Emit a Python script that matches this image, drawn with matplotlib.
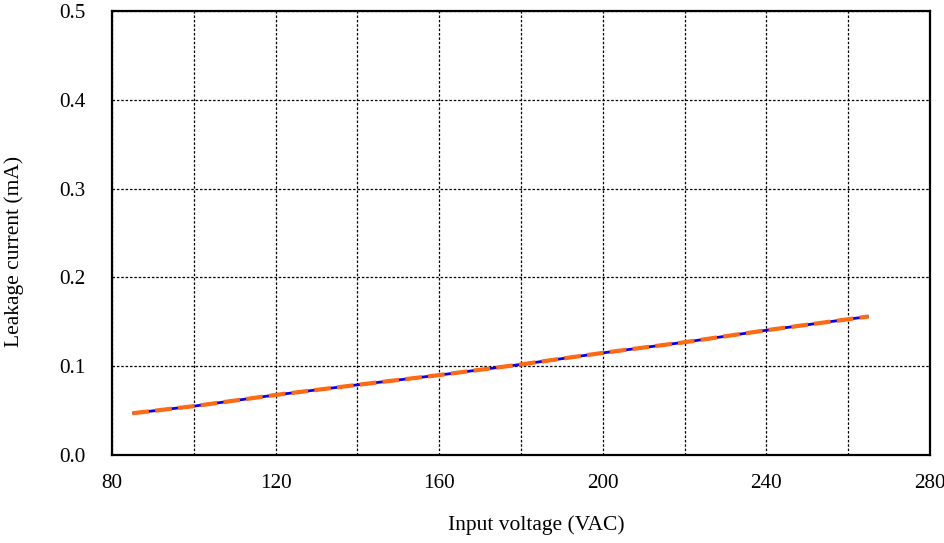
import matplotlib
matplotlib.use("Agg")
import matplotlib.pyplot as plt

# Leakage current versus AC input voltage
voltage = [85, 100, 120, 140, 160, 180, 200, 220, 240, 265]
leakage = [0.047, 0.055, 0.0676, 0.079, 0.090, 0.102, 0.115, 0.127, 0.1405, 0.156]

x_ticks = [80, 120, 160, 200, 240, 280]
y_ticks = [0.0, 0.1, 0.2, 0.3, 0.4, 0.5]

plt.rcParams["font.family"] = ["Liberation Serif", "DejaVu Serif"]

fig = plt.figure(figsize=(9.44, 5.43), dpi=100)
ax = fig.add_axes([112 / 944, 1 - 455 / 543, (930 - 112) / 944, (455 - 11) / 543])

ax.plot(voltage, leakage, color="#0000ff", lw=2.0, solid_capstyle="butt", zorder=3)
ax.plot(voltage, leakage, color="#ff6a13", lw=3.0, dashes=(4, 1.5), zorder=4)

ax.set_xlim(80, 280)
ax.set_ylim(0, 0.5)
ax.set_xticks(x_ticks)
ax.set_yticks(y_ticks)
ax.set_xticks(range(80, 281, 20), minor=True)
ax.set_yticklabels([f"{v:.1f}" for v in y_ticks])
ax.grid(True, which="both", axis="x", color="black", ls=(0, (2, 1.5)), lw=0.9)
ax.grid(True, which="major", axis="y", color="black", ls=(0, (2, 1.5)), lw=0.9)
ax.tick_params(which="both", length=0, labelsize=15.2)
ax.tick_params(axis="x", pad=13.5)
ax.tick_params(axis="y", pad=19)

for s in ax.spines.values():
    s.set_linewidth(1.6)
    s.set_zorder(5)

ax.set_xlabel("Input voltage (VAC)", fontsize=15.5)
ax.set_ylabel("Leakage current (mA)", fontsize=15.5)
ax.xaxis.set_label_coords((536 - 112) / 818, -(525 - 455) / 444, transform=ax.transAxes)
ax.yaxis.set_label_coords(-(112 - 14) / 818, (455 - 251) / 444, transform=ax.transAxes)
ax.xaxis.label.set_va("center")
ax.yaxis.label.set_va("center")

fig.savefig("out.png", dpi=100)
